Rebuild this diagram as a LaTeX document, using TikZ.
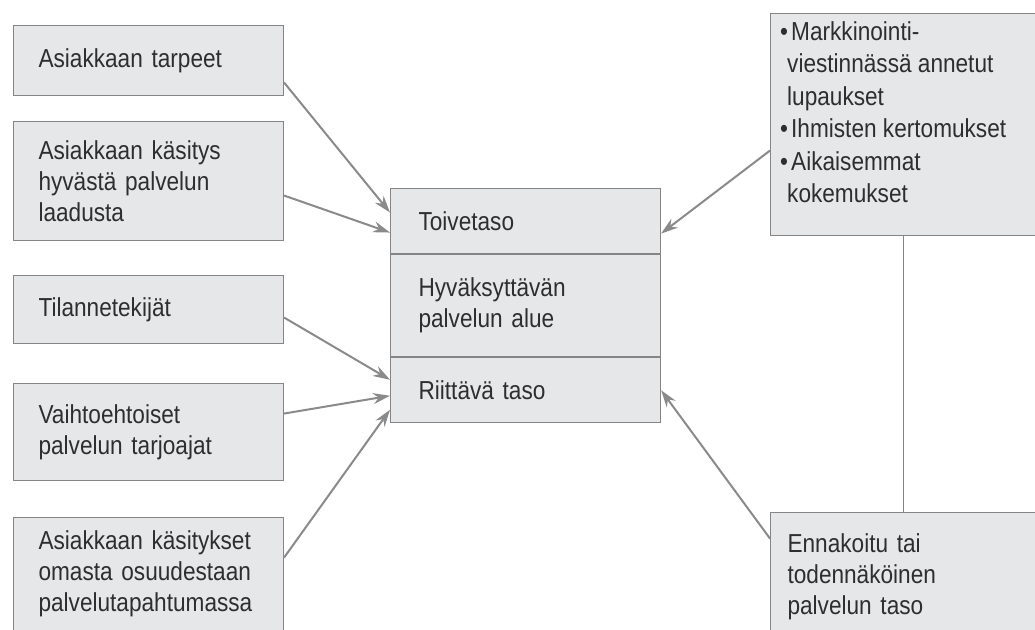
\documentclass[tikz,border=0pt]{standalone}
\usepackage{fontspec}
\setmainfont{Liberation Sans}[FakeStretch=0.87]
\usetikzlibrary{arrows.meta,positioning}

\definecolor{boxfill}{HTML}{E6E7E9}
\definecolor{boxline}{HTML}{858585}
\definecolor{arrowgray}{HTML}{8A8A8A}
\definecolor{ink}{HTML}{2E2E2E}

\newcommand{\kohta}{\makebox[11pt][l]{\textbullet}}

\tikzset{
  factor/.style={draw=boxline, fill=boxfill, line width=1.1pt, anchor=north west,
    align=left, text=ink, font=\fontsize{26}{31}\selectfont,
    inner xsep=25pt, inner ysep=0pt, text width=220pt, minimum height=#1},
  factor/.default=70pt,
  level/.style={factor=#1, inner xsep=28pt, text width=214pt},
  note/.style={anchor=north west, align=left, text=ink, inner sep=0pt,
    font=\fontsize{26}{32.5}\selectfont},
  feed/.style={draw=arrowgray, line width=2pt, -{Stealth[length=17pt,width=11pt]}},
  link/.style={draw=boxline, line width=1.2pt},
}

\begin{document}
\begin{tikzpicture}[x=1pt,y=-1pt]
\useasboundingbox (0,0) rectangle (1035,629);

% Left column: what shapes the desired level
\node[factor=70pt]  (tarpeet) at (13,25)  {Asiakkaan tarpeet};
\node[factor=119pt] (kasitys) at (13,121) {Asiakkaan käsitys\\hyvästä palvelun\\laadusta};
\node[factor=68pt]  (tilanne) at (13,275) {Tilannetekijät};
\node[factor=97pt]  (vaihto)  at (13,383) {Vaihtoehtoiset\\palvelun tarjoajat};
\node[factor=113pt] (osuus)   at (13,517) {Asiakkaan käsitykset\\omasta osuudestaan\\palvelutapahtumassa};

% Centre: the three levels, stacked
\node[level=65pt] (toive) at (390,188) {Toivetaso};
\node[level=102pt, below=0pt of toive] (alue) {Hyväksyttävän\\palvelun alue};
\node[level=65pt, below=0pt of alue] (riitta) {Riittävä taso};

% Right column
\node[factor=222pt, inner xsep=23pt] (kanavat) at (770,13) {};
\node[note] (kanavatxt) at ([xshift=10pt, yshift=-8pt]kanavat.north west)
  {\kohta Markkinointi-\\
   \hspace*{7pt}viestinnässä annetut\\
   \hspace*{7pt}lupaukset\\
   \kohta Ihmisten kertomukset\\
   \kohta Aikaisemmat\\
   \hspace*{7pt}kokemukset};
\node[factor=128pt, inner xsep=17pt, text width=232pt] (ennakoitu) at (770,512)
  {Ennakoitu tai\\todennäköinen\\palvelun taso};

% Arrows into the levels
\draw[feed] ([yshift=-22pt]tarpeet.east)   -- ([yshift=8.5pt]toive.west);
\draw[feed] ([yshift=-14.5pt]kasitys.east) -- ([yshift=-11.5pt]toive.west);
\draw[feed] ([yshift=-8pt]tilanne.east)    -- ([yshift=10.5pt]riitta.west);
\draw[feed] ([yshift=18.5pt]vaihto.east)   -- ([yshift=-5.5pt]riitta.west);
\draw[feed] ([yshift=16.5pt]osuus.east)    -- ([yshift=-19.5pt]riitta.west);
\draw[feed] ([yshift=-26pt]kanavat.west)   -- ([yshift=-12.5pt]toive.east);
\draw[feed] ([yshift=38pt]ennakoitu.west)  -- (riitta.east);

% Plain link between the right boxes
\draw[link] (kanavat.south) -- (ennakoitu.north);
\end{tikzpicture}
\end{document}
